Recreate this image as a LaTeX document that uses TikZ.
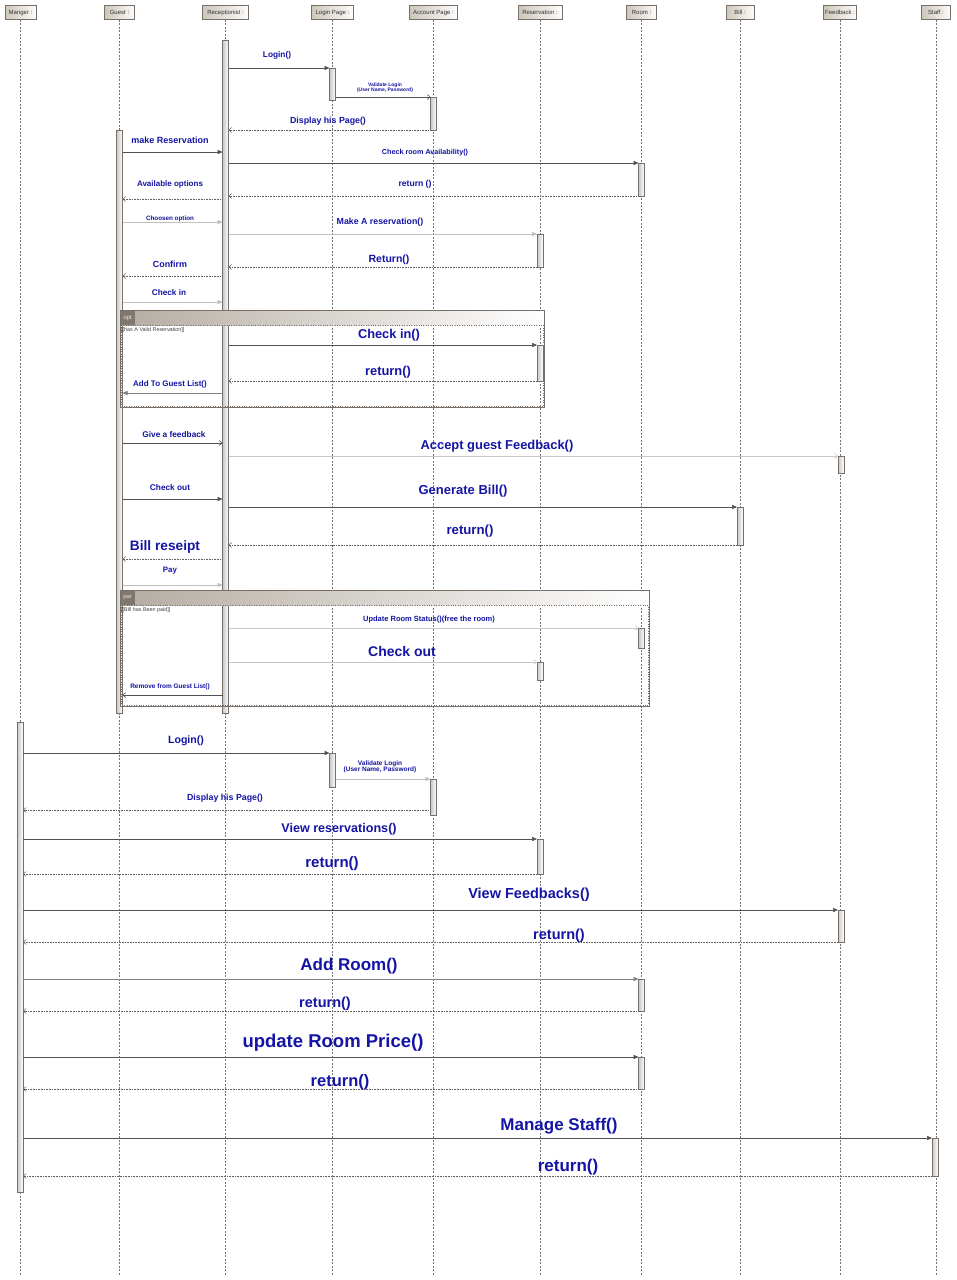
\documentclass[tikz,border=0pt]{standalone}
\usepackage{fontspec}
\setmainfont{Liberation Sans}
\usetikzlibrary{arrows.meta}
\definecolor{lblblue}{RGB}{20,20,165}
\definecolor{headfill}{RGB}{205,198,186}
\definecolor{bandfill}{RGB}{180,172,162}
\definecolor{tagfill}{RGB}{128,120,112}
\definecolor{edgegray}{RGB}{120,112,104}
\newcommand\lsize[1]{\fontsize{#1}{#1}\selectfont}
% message: name, x1, x2, y, style, label x, label y, size, text
\newcommand\msg[9]{%
  \coordinate (#1a) at (#2,#4);
  \coordinate (#1b) at (#3,#4);
  \draw[#5] (#1a) -- (#1b);
  \node[lbl, font=\bfseries\lsize{#8}] (#1l) at (#6,#7) {#9};}
% activation: name, x, y1, y2
\newcommand\actbar[4]{%
  \node[act, minimum height=#4pt-#3pt] (#1) at (#2,{(#3+#4)/2}) {};}
% head box + lifeline: name, x, width, text
\newcommand\lifehead[4]{%
  \node[headbox, minimum width=#3pt] (#1) at (#2,12.5) {#4};
  \coordinate (#1end) at (#2,1275);
  \draw[life] (#1.south) -- (#1end);}
% fragment: name, x1, y1, x2, y2, tag, guard
\newcommand\frag[7]{%
  \shade[left color=bandfill, right color=white] (#2,#3) rectangle (#4,#3+15);
  \draw[draw=edgegray, line width=0.6pt] (#2,#3) rectangle (#4,#5);
  \draw[draw=edgegray, line width=0.4pt, dotted] (#2+1,#3+15) rectangle (#4-1,#5-1);
  \node[fragtag, anchor=north west] (#1tag) at (#2+0.5,#3+0.5) {#6};
  \node[guard, anchor=west] (#1guard) at (#2+1,#3+20) {#7};}
\tikzset{
  life/.style={draw=black!55, line width=0.35pt, dash pattern=on 2pt off 1.5pt},
  headbox/.style={draw=edgegray, line width=0.5pt, left color=headfill, right color=white!95!headfill,
    minimum height=14pt, inner sep=0pt, text height=4.2pt, text depth=1.2pt, font=\lsize{6}, text=black!80},
  act/.style={draw=edgegray, line width=0.45pt, left color=black!22, right color=white,
    minimum width=6pt, inner sep=0pt},
  lbl/.style={text=lblblue, inner sep=0pt},
  fill tip/.style={-{Triangle[length=5pt,width=4.2pt]}},
  open tip/.style={-{Straight Barb[length=2.8pt,width=5pt]}},
  dark/.style={draw=black!68, line width=0.6pt, fill tip},
  darkopen/.style={draw=black!68, line width=0.6pt, open tip},
  light/.style={draw=black!25, line width=0.6pt, fill tip},
  lightopen/.style={draw=black!22, line width=0.6pt, open tip},
  mid/.style={draw=black!50, line width=0.6pt, fill tip},
  ret/.style={draw=black!62, line width=0.5pt, dash pattern=on 1pt off 0.6pt, open tip},
  fragtag/.style={fill=tagfill, minimum width=14pt, minimum height=14pt, inner sep=0pt,
    font=\lsize{6}, text=black!10},
  guard/.style={inner sep=0pt, font=\lsize{5.4}, text=black!75},
}
\begin{document}
\begin{tikzpicture}[x=1pt,y=-1pt]
\useasboundingbox (0,0) rectangle (956,1280);
\fill[white] (0,0) rectangle (956,1280);
% lifelines
\lifehead{hMan}{20.5}{31}{Manger :}
\lifehead{hGuest}{119.5}{30}{Guest :}
\lifehead{hRec}{225.5}{46}{Receptionist :}
\lifehead{hLog}{332.5}{42}{Login Page :}
\lifehead{hAcc}{433.5}{48}{Account Page :}
\lifehead{hRes}{540}{44}{Reservation :}
\lifehead{hRoom}{641.5}{30}{Room :}
\lifehead{hBill}{740}{28}{Bill :}
\lifehead{hFb}{840}{33}{Feedback :}
\lifehead{hStaff}{936}{29}{Staff :}
% activations (upper)
\actbar{aRec}{225.5}{40}{713}
\actbar{aGuest}{119.5}{130}{713}
\actbar{aLog1}{332.5}{68}{100}
\actbar{aAcc1}{433.5}{97}{130}
\actbar{aRoom1}{641.5}{163}{196}
\actbar{aRes1}{540}{234}{267}
\actbar{aRes2}{540}{345}{381}
\actbar{aFb1}{841}{456}{473}
\actbar{aBill1}{740}{507}{545}
\actbar{aRoom2}{641.5}{628}{648}
\actbar{aRes3}{540}{662}{680}
% activations (manager)
\actbar{aMan}{20}{722}{1192}
\actbar{aLog2}{332.5}{753}{787}
\actbar{aAcc2}{433.5}{779}{815}
\actbar{aRes4}{540}{839}{874}
\actbar{aFb2}{841}{910}{942}
\actbar{aRoom3}{641.5}{979}{1011}
\actbar{aRoom4}{641.5}{1057}{1089}
\actbar{aStaff}{935}{1138}{1176}
% fragments
\frag{opt}{120}{310}{544}{407}{opt}{[[has A Valid Reservation]]}
\frag{par}{120}{590}{649}{706}{par}{[[Bill has Been paid]]}
% messages (upper)
\msg{m1}{228.5}{329.5}{68}{dark}{277}{55}{8.3}{Login()}
\coordinate (m2a) at (335.5,97); \coordinate (m2b) at (430.5,97);
\draw[darkopen] (m2a) -- (m2b);
\node[lbl, font=\bfseries\lsize{5}, align=center] (m2l) at (385,88) {Validate Login\\(User Name, Password)};
\msg{m3}{430.5}{228.5}{130}{ret}{328}{121}{8.8}{Display his Page()}
\msg{m4}{122.5}{222.5}{152}{dark}{170}{140}{9}{make Reservation}
\msg{m5}{228.5}{638.5}{163}{dark}{425}{153}{7.2}{Check room Availability()}
\msg{m6}{638.5}{228.5}{196}{ret}{415}{184}{8.6}{return ()}
\msg{m7}{222.5}{122.5}{199}{ret}{170}{184}{8}{Available options}
\msg{m8}{122.5}{222.5}{222}{light}{170}{219}{6.3}{Choosen option}
\msg{m9}{228.5}{537}{234}{light}{380}{222}{8.8}{Make A reservation()}
\msg{m10}{537}{228.5}{267}{ret}{389}{260}{10.5}{Return()}
\msg{m11}{222.5}{122.5}{276}{ret}{170}{264}{8.9}{Confirm}
\msg{m12}{122.5}{222.5}{302}{light}{169}{293}{8.2}{Check in}
\msg{m13}{228.5}{537}{345}{dark}{389}{335}{12.8}{Check in()}
\msg{m14}{537}{228.5}{381}{ret}{388}{372}{12.9}{return()}
\msg{m15}{222.5}{122.5}{393}{mid}{170}{384}{8}{Add To Guest List()}
\msg{m16}{122.5}{222.5}{443}{darkopen}{174}{435}{8.3}{Give a feedback}
\msg{m17}{228.5}{838}{456}{lightopen}{497}{446}{12.9}{Accept guest Feedback()}
\msg{m18}{122.5}{222.5}{499}{dark}{170}{488}{8.3}{Check out}
\msg{m19}{228.5}{737}{507}{dark}{463}{491}{13}{Generate Bill()}
\msg{m20}{737}{228.5}{545}{ret}{470}{531}{13.2}{return()}
\msg{m21}{222.5}{122.5}{559}{ret}{165}{547}{13.7}{Bill reseipt}
\msg{m22}{122.5}{222.5}{585}{light}{170}{571}{7.9}{Pay}
\msg{m23}{228.5}{638.5}{628}{lightopen}{429}{620}{7.5}{Update Room Status()(free the room)}
\msg{m24}{228.5}{537}{662}{lightopen}{402}{651}{14}{Check out}
\msg{m25}{222.5}{122.5}{695}{darkopen}{170}{687}{6.5}{Remove from Guest List()}
% messages (manager)
\msg{n1}{23}{329.5}{753}{dark}{186}{741}{10.6}{Login()}
\coordinate (n2a) at (335.5,779); \coordinate (n2b) at (430.5,779);
\draw[light] (n2a) -- (n2b);
\node[lbl, font=\bfseries\lsize{6.5}, align=center] (n2l) at (380,767) {Validate Login\\(User Name, Password)};
\msg{n3}{430.5}{23}{810}{ret}{225}{798}{8.8}{Display his Page()}
\msg{n4}{23}{537}{839}{dark}{339}{829}{12.6}{View reservations()}
\msg{n5}{537}{23}{874}{ret}{332}{864}{15}{return()}
\msg{n6}{23}{838}{910}{dark}{529}{895}{14.5}{View Feedbacks()}
\msg{n7}{838}{23}{942}{ret}{559}{936}{14.5}{return()}
\msg{n8}{23}{638.5}{979}{mid}{349}{966}{17}{Add Room()}
\msg{n9}{638.5}{23}{1011}{ret}{325}{1004}{14.5}{return()}
\msg{n10}{23}{638.5}{1057}{dark}{333}{1043}{18.5}{update Room Price()}
\msg{n11}{638.5}{23}{1089}{ret}{340}{1082}{16.5}{return()}
\msg{n12}{23}{932}{1138}{dark}{559}{1126}{17}{Manage Staff()}
\msg{n13}{932}{23}{1176}{ret}{568}{1167}{17}{return()}
\end{tikzpicture}
\end{document}
